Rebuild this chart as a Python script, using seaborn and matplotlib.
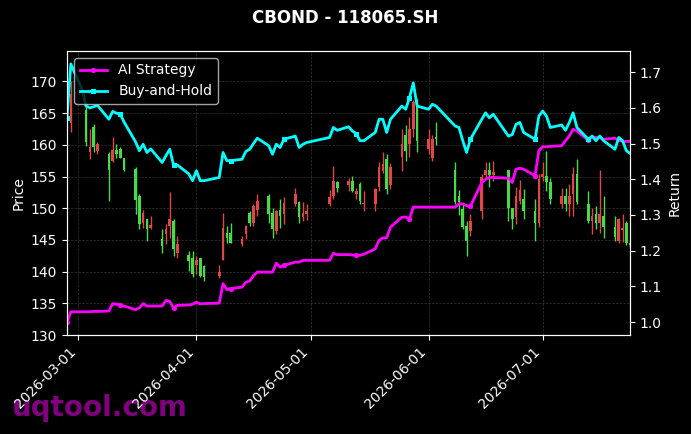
import pandas as pd
import numpy as np
import matplotlib
matplotlib.use("Agg")
import matplotlib.pyplot as plt
import matplotlib.dates as mdates
import seaborn as sns

plt.style.use("dark_background")

# trading days (Chinese calendar, a few missing sessions)
holidays = ["2026-04-06", "2026-05-01", "2026-05-04", "2026-05-05",
            "2026-06-04", "2026-06-05", "2026-06-19"]
dates = [d for d in pd.bdate_range("2026-02-26", "2026-07-24") if d.strftime("%Y-%m-%d") not in holidays]

opens = [None, 163.5, None, 165.5, 158.9, 162.8, 159.0, 158.6, 157.5, 159.2,
         159.4, 157.9, 156.2, 152.0, 147.7, 148.3, 146.9, 145.1, 145.9, 147.2,
         148.0, 143.0, 142.7, 142.2, 141.1, 142.2, 140.9, 139.3, 141.9, 146.1,
         146.1, 144.3, 145.9, 149.2, 147.7, 149.8, 152.0, 149.3, 146.4, 149.8,
         149.1, 150.6, 151.0, 148.6, 149.1, 150.6, 151.9, 154.1, 153.7, 154.3,
         152.2, 153.8, 150.6, 150.6, 153.3, 155.9, 157.7, 153.6, 158.1, 161.5,
         160.1, 162.5, 167.0, 159.3, 158.0, 161.2, 156.0, 152.0, 149.9, 147.2,
         146.4, 149.6, 155.2, 156.0, 155.2, 156.0, 150.1, 148.6, 151.1, 151.4,
         149.6, 147.7, 154.9, 155.1, 154.1, 150.6, 152.0, 150.6, 152.2, 155.4,
         150.7, 148.0, 149.1, 147.7, 148.8, 147.0, 144.8, 146.5, 147.7, 144.5]
highs = [None, 170.0, None, 166.5, 162.5, 163.3, 160.4, 158.8, 161.2, 160.2,
         159.7, 158.0, 156.5, 152.2, 149.8, 148.3, 148.8, 146.7, 147.5, 152.5,
         148.3, 145.6, 143.3, 143.3, 142.5, 142.2, 141.1, 141.1, 149.3, 147.2,
         147.7, 145.6, 147.4, 149.5, 150.6, 152.2, 152.2, 150.1, 149.8, 151.4,
         151.7, 153.2, 151.2, 151.0, 150.6, 152.8, 156.7, 154.3, 154.8, 155.1,
         153.2, 154.1, 152.7, 153.2, 157.3, 158.8, 158.5, 157.2, 162.5, 163.1,
         164.4, 167.0, 167.3, 162.5, 161.5, 163.6, 157.3, 152.8, 150.7, 148.0,
         149.1, 155.4, 157.3, 157.3, 157.5, 156.0, 150.1, 153.3, 154.4, 153.0,
         151.4, 155.4, 157.3, 159.1, 154.8, 153.2, 153.2, 153.8, 156.5, 157.8,
         152.7, 150.1, 150.4, 156.0, 152.0, 148.8, 148.5, 149.1, 148.0, 144.8]
lows = [None, 162.0, None, 159.8, 157.8, 158.8, 158.5, 151.2, 157.3, 158.0,
        157.9, 155.9, 149.1, 146.7, 146.9, 144.8, 146.7, 143.0, 144.3, 145.3,
        142.5, 142.2, 140.1, 139.1, 139.6, 139.1, 138.5, 139.0, 141.9, 144.5,
        144.5, 144.0, 145.1, 147.2, 147.2, 148.8, 147.7, 145.3, 145.9, 146.9,
        147.5, 150.4, 147.7, 148.0, 148.2, 150.4, 151.4, 152.5, 152.7, 152.5,
        151.4, 150.6, 149.6, 149.6, 152.7, 155.6, 152.2, 153.0, 155.9, 157.5,
        158.1, 161.2, 158.8, 158.5, 157.5, 159.9, 150.7, 148.9, 146.7, 142.5,
        145.6, 148.3, 154.6, 153.3, 154.3, 148.0, 146.7, 147.5, 150.7, 148.3,
        144.8, 147.0, 154.3, 152.7, 150.7, 150.1, 149.6, 148.8, 148.8, 150.7,
        147.7, 145.9, 146.7, 146.1, 145.3, 144.8, 144.5, 144.6, 144.2, 143.8]
closes = [None, 168.0, None, 160.5, 159.6, 159.6, 160.1, 156.1, 159.2, 158.5,
          158.0, 156.0, 151.3, 147.5, 149.2, 146.7, 147.4, 144.0, 146.7, 148.3,
          143.5, 144.3, 141.6, 139.6, 141.9, 139.3, 139.1, 140.0, 146.9, 145.3,
          144.5, 145.1, 147.2, 147.7, 150.4, 151.1, 149.1, 146.7, 149.6, 148.8,
          150.9, 152.2, 148.6, 149.3, 149.6, 151.7, 154.3, 153.2, 154.3, 152.7,
          152.7, 151.1, 150.9, 153.0, 156.5, 156.9, 153.0, 156.5, 160.2, 159.1,
          162.5, 166.8, 160.6, 160.9, 160.9, 160.9, 151.0, 151.0, 147.0, 144.8,
          148.0, 154.9, 156.0, 155.2, 155.7, 150.1, 148.3, 152.0, 152.8, 149.6,
          147.7, 154.6, 155.4, 154.1, 151.4, 152.0, 150.6, 152.0, 155.4, 151.0,
          148.0, 148.8, 147.7, 149.1, 147.0, 145.5, 148.3, 146.9, 144.5, 144.2]

ai_strategy = [1.000, 1.029, 1.029, 1.029, 1.029, 1.030, 1.030, 1.031, 1.052, 1.050,
               1.047, 1.045, 1.035, 1.040, 1.052, 1.045, 1.045, 1.045, 1.061, 1.058,
               1.039, 1.047, 1.048, 1.050, 1.056, 1.051, 1.052, 1.053, 1.108, 1.091,
               1.094, 1.098, 1.112, 1.115, 1.130, 1.140, 1.140, 1.140, 1.165, 1.154,
               1.159, 1.168, 1.168, 1.173, 1.173, 1.173, 1.193, 1.189, 1.189, 1.188,
               1.187, 1.187, 1.190, 1.205, 1.229, 1.236, 1.236, 1.266, 1.294, 1.294,
               1.289, 1.322, 1.322, 1.322, 1.322, 1.322, 1.322, 1.331, 1.331, 1.326,
               1.324, 1.391, 1.400, 1.405, 1.405, 1.403, 1.391, 1.428, 1.431, 1.428,
               1.410, 1.480, 1.491, 1.491, 1.492, 1.494, 1.508, 1.521, 1.540, 1.535,
               1.509, 1.519, 1.517, 1.517, 1.512, 1.515, 1.509, 1.506, 1.506, 1.506]
buy_hold = [1.572, 1.723, 1.650, 1.605, 1.600, 1.603, 1.607, 1.568, 1.590, 1.585,
            1.582, 1.560, 1.505, 1.480, 1.498, 1.475, 1.485, 1.447, 1.466, 1.484,
            1.440, 1.440, 1.415, 1.396, 1.424, 1.396, 1.396, 1.405, 1.475, 1.452,
            1.452, 1.456, 1.478, 1.484, 1.500, 1.515, 1.494, 1.470, 1.498, 1.489,
            1.512, 1.521, 1.489, 1.498, 1.503, 1.517, 1.545, 1.537, 1.547, 1.535,
            1.528, 1.508, 1.508, 1.531, 1.568, 1.568, 1.531, 1.568, 1.605, 1.596,
            1.628, 1.670, 1.605, 1.596, 1.610, 1.605, 1.549, 1.545, 1.508, 1.475,
            1.512, 1.568, 1.586, 1.572, 1.582, 1.521, 1.525, 1.554, 1.559, 1.531,
            1.512, 1.577, 1.591, 1.577, 1.545, 1.552, 1.537, 1.559, 1.586, 1.545,
            1.512, 1.521, 1.508, 1.521, 1.508, 1.484, 1.517, 1.508, 1.480, 1.472]

df = pd.DataFrame({"date": dates, "open": opens, "high": highs, "low": lows,
                   "close": closes, "ai": ai_strategy, "bh": buy_hold})
candles = df.dropna(subset=["open"])
up = candles["close"] >= candles["open"]
colors = np.where(up, "#e04646", "#46dc46")

fig = plt.figure(figsize=(6.91, 4.34), dpi=100)
ax = fig.add_axes([0.097, 0.228, 0.815, 0.6545])

# candles: wicks + bodies
ax.vlines(candles["date"], candles["low"], candles["high"], color=colors, linewidth=1)
ax.bar(candles["date"], (candles["close"] - candles["open"]).abs(),
       bottom=candles[["open", "close"]].min(axis=1), width=0.7, color=colors)
ax.set_ylim(130, 174.8)
ax.set_ylabel("Price")
ax.grid(True, linestyle="--", linewidth=0.5, color="gray", alpha=0.4)

ax2 = ax.twinx()
sns.lineplot(x=df["date"], y=df["ai"], ax=ax2, color="magenta", linewidth=2,
             marker="o", markersize=3, markevery=10, markeredgecolor="magenta",
             label="AI Strategy")
sns.lineplot(x=df["date"], y=df["bh"], ax=ax2, color="cyan", linewidth=2,
             marker="s", markersize=3, markevery=10, markeredgecolor="cyan",
             label="Buy-and-Hold")
ax2.set_ylabel("Return")
ax2.set_xlabel("")
ax2.grid(False)
ax2.legend(loc="upper left")

ax.set_xlim(df["date"].iloc[0], df["date"].iloc[-1])
ax.xaxis.set_major_locator(mdates.MonthLocator())
ax.xaxis.set_major_formatter(mdates.DateFormatter("%Y-%m-%d"))
plt.setp(ax.get_xticklabels(), rotation=45, ha="right")
ax.set_xlabel("")

fig.suptitle("CBOND - 118065.SH", fontsize=12, fontweight="bold", color="white")
fig.text(0.017, 0.06, "uqtool.com", fontsize=20, fontweight="bold", color="purple",
         va="center", zorder=-1)

fig.savefig("out.png", dpi=100)
